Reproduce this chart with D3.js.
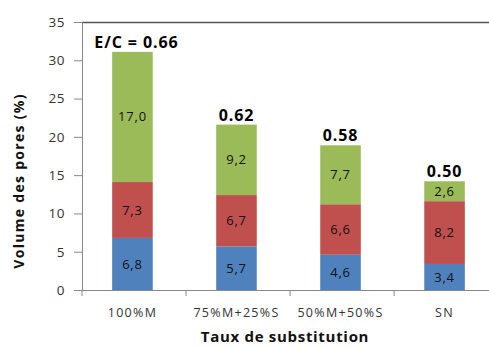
<!DOCTYPE html>
<html><head><meta charset="utf-8">
<script src="https://cdn.jsdelivr.net/npm/d3@7"></script>
<style>body{margin:0;background:#fff}svg{display:block}text{font-family:"Open Sans","Noto Sans",sans-serif}</style>
</head><body><svg id="c" width="489" height="347"></svg>
<script>
const categories = ["100%M","75%M+25%S","50%M+50%S","SN"];
const blueVals = [6.8,5.7,4.6,3.4];
const redVals = [7.3,6.7,6.6,8.2];
const greenVals = [17.0,9.2,7.7,2.6];
const ecLabels = ["E/C = 0.66","0.62","0.58","0.50"];
const yTicks = [0,5,10,15,20,25,30,35];
const colors = ["#4F81BD","#C0504D","#9BBB59"];

const svg = d3.select("#c");
const x = d3.scaleBand().domain(categories).range([82,495]).paddingInner(0.61).paddingOuter(0.29);
const y = d3.scaleLinear().domain([0,35]).range([290,22]);

// top border
svg.append("line").attr("x1",82).attr("x2",489).attr("y1",22.5).attr("y2",22.5).attr("stroke","#555").attr("stroke-width",1.5);

const series = [blueVals, redVals, greenVals];
categories.forEach((c,i)=>{
  let base = 0;
  series.forEach((s,k)=>{
    const v = s[i];
    const y0 = y(base), y1 = y(base+v);
    svg.append("rect").attr("x",x(c)).attr("width",x.bandwidth()).attr("y",y1).attr("height",y0-y1).attr("fill",colors[k]);
    svg.append("text").attr("x",x(c)+x.bandwidth()/2).attr("y",(y0+y1)/2).attr("dy","0.35em")
      .attr("text-anchor","middle").attr("font-size",13).attr("letter-spacing",0.8).attr("fill","#111").text(v.toFixed(1).replace(".",","));
    base += v;
  });
  svg.append("text").attr("x",x(c)+x.bandwidth()/2+(i===0?4:0)).attr("y",y(base)-4)
    .attr("text-anchor","middle").attr("font-size",16).attr("letter-spacing",0.9).attr("font-weight","bold").attr("fill","#000").text(ecLabels[i]);
});

// y axis
const ya = svg.append("g").attr("transform","translate(82,0)").call(d3.axisLeft(y).tickValues(yTicks).tickSize(8).tickPadding(9));
ya.select(".domain").attr("stroke","#888");
ya.selectAll(".tick line").attr("stroke","#888");
ya.selectAll("text").attr("font-size",13.5).attr("letter-spacing",0.5).attr("font-family","Open Sans").attr("fill","#333");

// x axis
const xa = svg.append("g").attr("transform","translate(0,290)");
xa.append("line").attr("x1",82).attr("x2",489).attr("y1",0.5).attr("y2",0.5).attr("stroke","#888");
const step = x.step();
d3.range(0,5).forEach(j=>{
  const tx = 82 + j*step;
  xa.append("line").attr("x1",tx).attr("x2",tx).attr("y1",0).attr("y2",6).attr("stroke","#888");
});
categories.forEach(c=>{
  xa.append("text").attr("x",x(c)+x.bandwidth()/2).attr("y",23).attr("dy","0.35em").attr("text-anchor","middle")
    .attr("font-size",12.5).attr("letter-spacing",1.3).attr("fill","#333").text(c);
});

svg.append("text").attr("x",285).attr("y",342).attr("text-anchor","middle").attr("font-size",15).attr("letter-spacing",0.7).attr("font-weight","bold").attr("fill","#111").text("Taux de substitution");
svg.append("text").attr("transform","translate(24,181) rotate(-90)").attr("text-anchor","middle").attr("font-size",14).attr("letter-spacing",1.3).attr("font-weight","bold").attr("fill","#111").text("Volume des pores (%)");
</script></body></html>
